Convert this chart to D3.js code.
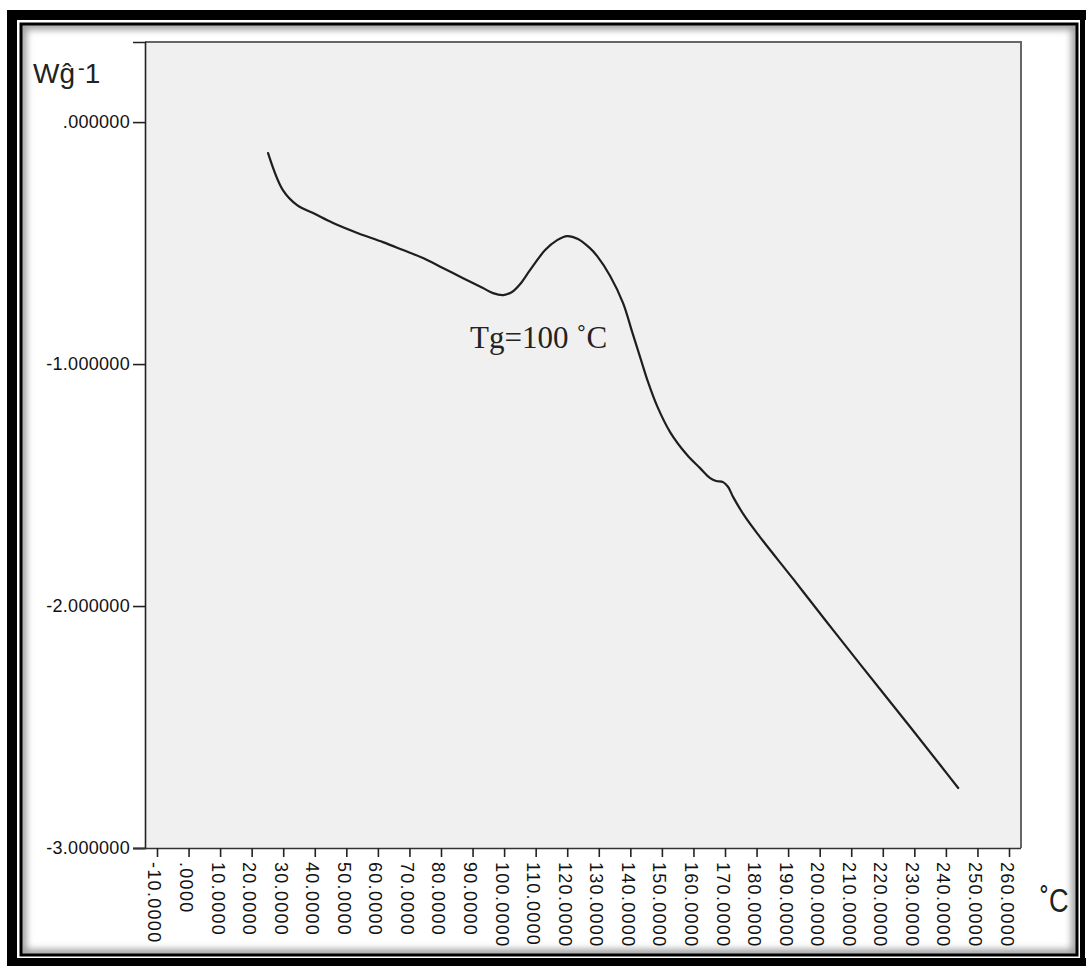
<!DOCTYPE html>
<html>
<head>
<meta charset="utf-8">
<script src="https://cdn.jsdelivr.net/npm/d3@7/dist/d3.min.js"></script>
<style>
  html, body { margin: 0; padding: 0; background: #fff; }
  svg { display: block; }
</style>
</head>
<body>
<svg id="chart" width="1086" height="966"></svg>
<script>
// DSC heat-flow trace (W/g) against temperature (°C)
const temperature = [25.2, 29.9, 34.4, 40.1, 45.8, 53.7, 61.6, 68.0, 74.3, 80.6, 87.0, 93.3, 96.5, 99.7,
  102.5, 105.1, 108.2, 113.0, 116.8, 120.0, 123.4, 127.2, 129.5, 133.6, 137.7, 140.6, 143.1, 145.6,
  148.5, 152.6, 158.0, 162.1, 165.3, 167.2, 169.4, 171.0, 172.6, 176.4, 181.1, 191.6, 202.0, 212.8,
  228.7, 238.2, 243.9];
const heatFlow = [-0.128, -0.281, -0.343, -0.380, -0.417, -0.459, -0.496, -0.529, -0.562, -0.603, -0.645,
  -0.686, -0.707, -0.715, -0.702, -0.669, -0.612, -0.529, -0.488, -0.471, -0.483, -0.521, -0.554,
  -0.636, -0.748, -0.868, -0.971, -1.074, -1.174, -1.281, -1.376, -1.430, -1.471, -1.483, -1.488,
  -1.508, -1.550, -1.632, -1.715, -1.888, -2.062, -2.240, -2.500, -2.657, -2.752];

const xTicks = [-10, 0, 10, 20, 30, 40, 50, 60, 70, 80, 90, 100, 110, 120, 130, 140, 150, 160, 170,
  180, 190, 200, 210, 220, 230, 240, 250, 260];
const yTicks = [0, -1, -2, -3];

const yTitle = "Wĝ";
const xTitle = "˚C";
const note = "Tg=100 ˚C";

// tick text: plain hyphen for negatives, no leading zero for zero
const fmt = (digits) => (d) => d === 0 ? "." + "0".repeat(digits) : d3.format("." + digits + "f")(d).replace("\u2212", "-");

const svg = d3.select("#chart");

// outer frame and inner panel with soft inner shadow
const defs = svg.append("defs");
defs.append("filter").attr("id", "soft").attr("x", "-5%").attr("y", "-5%").attr("width", "110%").attr("height", "110%")
  .append("feGaussianBlur").attr("stdDeviation", 3.5);
defs.append("clipPath").attr("id", "panelClip")
  .append("rect").attr("x", 22).attr("y", 25).attr("width", 1054).attr("height", 929);

svg.append("rect").attr("x", 0).attr("y", 0).attr("width", 1086).attr("height", 966).attr("fill", "#fff");
// thick outer bars
svg.append("rect").attr("x", 7).attr("y", 10).attr("width", 1079).attr("height", 10).attr("fill", "#000");
svg.append("rect").attr("x", 7).attr("y", 10).attr("width", 10).attr("height", 956).attr("fill", "#000");
svg.append("rect").attr("x", 7).attr("y", 958).attr("width", 1079).attr("height", 8).attr("fill", "#000");
svg.append("rect").attr("x", 1080).attr("y", 10).attr("width", 5).attr("height", 956).attr("fill", "#000");

// inner panel shadow
svg.append("g").attr("clip-path", "url(#panelClip)")
  .append("rect").attr("x", 22).attr("y", 25).attr("width", 1054).attr("height", 929)
  .attr("fill", "none").attr("stroke", "#9a9a9a").attr("stroke-width", 9).attr("filter", "url(#soft)");
svg.append("rect").attr("x", 21).attr("y", 24).attr("width", 1056).attr("height", 931)
  .attr("fill", "none").attr("stroke", "#000").attr("stroke-width", 3);

// plotting area
const plotLeft = 145, plotRight = 1021, plotTop = 42, plotBottom = 848;
const x = d3.scaleLinear().domain([-13.8, 263.8]).range([plotLeft, plotRight]);
const y = d3.scaleLinear().domain([-3, 0.331]).range([plotBottom, plotTop]);

svg.append("rect").attr("x", plotLeft).attr("y", plotTop)
  .attr("width", plotRight - plotLeft).attr("height", plotBottom - plotTop)
  .attr("fill", "#f0f0f0").attr("stroke", "none");
svg.append("path")
  .attr("d", `M${plotLeft},${plotTop}H${plotRight}V${plotBottom}`)
  .attr("fill", "none").attr("stroke", "#666").attr("stroke-width", 2);

// y axis
const yAxis = d3.axisLeft(y).tickValues(yTicks).tickSize(12).tickPadding(3).tickFormat(fmt(6));
const gy = svg.append("g").attr("transform", `translate(${plotLeft},0)`).call(yAxis);
gy.select(".domain").attr("stroke", "#222").attr("stroke-width", 1.6);
gy.selectAll(".tick line").attr("stroke", "#222").attr("stroke-width", 1.6);
gy.selectAll(".tick text").attr("font-family", "Liberation Sans, Arial, sans-serif")
  .attr("font-size", 18).attr("fill", "#111").attr("letter-spacing", 0.3);

// x axis
const xAxis = d3.axisBottom(x).tickValues(xTicks).tickSize(9).tickSizeOuter(0).tickFormat(fmt(4));
const gx = svg.append("g").attr("transform", `translate(0,${plotBottom})`).call(xAxis);
gx.select(".domain").attr("stroke", "#333").attr("stroke-width", 1.6)
  .attr("d", `M${plotLeft - 12},0.5H${plotRight}`);
gx.selectAll(".tick line").attr("stroke", "#222").attr("stroke-width", 1.6);
gx.selectAll(".tick text")
  .attr("font-family", "Liberation Sans, Arial, sans-serif")
  .attr("font-size", 18).attr("fill", "#111").attr("letter-spacing", 1.3)
  .attr("text-anchor", "start").attr("dy", null)
  .attr("dominant-baseline", "central")
  .attr("transform", "translate(-3,14) rotate(90)")
  .attr("x", 0).attr("y", 0);

// heat-flow curve
const line = d3.line().x((d, i) => x(temperature[i])).y(d => y(d)).curve(d3.curveCatmullRom.alpha(0.5));
svg.append("path").datum(heatFlow).attr("d", line)
  .attr("fill", "none").attr("stroke", "#1e1e1e").attr("stroke-width", 2.2)
  .attr("stroke-linejoin", "round").attr("stroke-linecap", "round");

// axis titles
const yt = svg.append("text").attr("x", 33).attr("y", 83)
  .attr("font-family", "Liberation Sans, Arial, sans-serif").attr("font-size", 28).attr("fill", "#222");
yt.append("tspan").text(yTitle);
yt.append("tspan").attr("dx", 3).attr("dy", -8).attr("font-size", 20).text("-");
yt.append("tspan").attr("dy", 8).text("1");

svg.append("text").attr("transform", "translate(1040,912) scale(0.8,1)")
  .attr("font-family", "Liberation Sans, Arial, sans-serif").attr("font-size", 34).attr("fill", "#222")
  .text(xTitle);

// glass-transition note
svg.append("text").attr("x", 470).attr("y", 348)
  .attr("font-family", "Liberation Serif, Times New Roman, serif").attr("font-size", 31).attr("fill", "#222")
  .text(note);
</script>
</body>
</html>
